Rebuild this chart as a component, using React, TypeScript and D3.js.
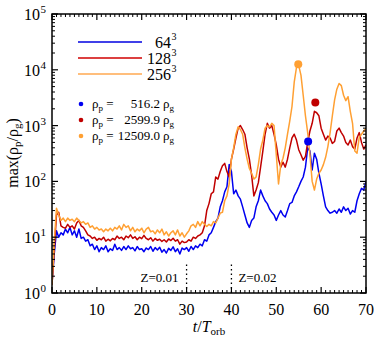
import React from "react";
import * as d3 from "d3";

const tStep = 0.5;
const blue = [1.5,5,13,10,12,11,14,12,15,11,13,10,14,9.5,10,8.5,9,7,7.5,6,7,5.5,6.5,6,7,5.5,6.2,5.8,7.5,6,6.5,5.8,6.8,6,7,6.2,6.5,5.7,6.8,6,6.2,5.5,6.4,6,6.8,5.6,6.5,5.9,6.6,5.4,6,5.2,6.3,5.8,6.7,5.5,6.2,5,6.4,6,6.5,5.6,6.8,6,7,6.5,7.5,7,9,8.5,11,12,15,19,22,35,45,65,80,200,150,60,70,55,48,35,25,18,15,20,22,35,45,70,55,45,40,32,28,25,20,25,30,25,23,30,40,42,55,65,80,100,120,180,400,350,160,320,250,140,90,55,35,30,27,28,30,27,32,28,35,30,33,26,30,28,45,60,75,70,100];
const red = [1.4,6,25,28,16,15,14.5,17,15,16,14,18,20,16,15,13,11,10.5,9.5,10,8.8,9.5,9,10,8.5,9.2,8.6,9.5,9,10.5,9.5,10,9,10.5,9.8,11,9.5,10.2,9,10,9.4,10.8,9.5,9,9.8,8.5,9.5,8.8,9.2,8.4,9,8.2,9.3,8.7,9.6,8.5,9,7.5,8.5,8,8.2,9,8.5,10,9.5,10.5,11,12,16,30,40,60,65,120,110,150,190,210,150,120,250,380,600,900,1000,850,700,400,250,130,55,70,95,180,350,700,1100,900,1000,700,450,250,180,220,180,250,400,600,700,550,370,300,240,280,500,800,1100,1800,1700,1500,900,700,550,650,600,480,520,800,900,750,650,500,450,550,420,380,600,750,500,380,450];
const orange = [1.4,8,33,25,20,22,19,22,20,21,19,22,20,18,19,17,18,15,16,14,15,13.5,14,12.5,14,13,14.5,13,15,14,16,13.5,17,15,16,13,15,12.5,14,13,14.5,12,14,15,12.5,13,11.5,13.5,12,14,11,12.5,10.5,12,13,11,13.5,10.5,12,10,11.5,13,16,17,15,19,16,19,17,15.5,17,16,19,18,22,27,28,45,55,90,250,400,700,950,850,700,400,250,170,140,110,120,200,380,550,900,1000,950,1100,1000,300,90,200,260,400,700,1200,2200,6000,11000,12000,8000,3500,1500,750,300,100,70,110,140,160,200,270,420,750,1500,2900,4500,5700,5200,3500,2800,3300,1800,1100,350,320,620,700,800,900];

const seriesNames = ["64", "128", "256"];
const seriesColors = ["#0000f0", "#c00000", "#ffa033"];
const legendLineColors = ["#0000e0", "#d00000", "#ffa850"];
const peakT = [57.1, 58.7, 54.9];
const peakRho = [516.2, 2599.9, 12509.0];
const peakLabels = ["516.2", "2599.9", "12509.0"];
const xTicks = [0, 10, 20, 30, 40, 50, 60, 70];
const yExps = [0, 1, 2, 3, 4, 5];
const zLines = [30, 40];
const zLabels = ["Z=0.01", "Z=0.02"];

const W = 374, H = 343;
const L = 52, R = 366, T = 14, B = 293;
const FONT = "'Liberation Serif', 'DejaVu Serif', serif";

export default function App() {
  const x = d3.scaleLinear().domain([0, 70]).range([L, R]);
  const y = d3.scaleLog().domain([1, 1e5]).range([B, T]);
  const all = [blue, red, orange];
  const line = d3
    .line<number>()
    .x((_, i) => x(i * tStep))
    .y((d) => y(d));

  const minorX = d3.range(0, 71, 1).filter((v) => v % 10 !== 0);
  const minorY: number[] = [];
  for (let e = 0; e < 5; e++) for (let m = 2; m <= 9; m++) minorY.push(m * Math.pow(10, e));

  return (
    <svg width={W} height={H} style={{ position: "absolute", left: 0, top: 0, background: "#fff" }} fontFamily={FONT}>
      <defs>
        <clipPath id="plot">
          <rect x={L} y={T} width={R - L} height={B - T} />
        </clipPath>
      </defs>
      <g clipPath="url(#plot)">
        {all.map((s, i) => (
          <path key={i} d={line(s) || ""} fill="none" stroke={seriesColors[i]} strokeWidth={1.5} strokeLinejoin="round" />
        ))}
      </g>
      {peakT.map((t, i) => (
        <circle key={i} cx={x(t)} cy={y(peakRho[i])} r={4} fill={seriesColors[i]} />
      ))}
      {/* dotted Z lines */}
      {zLines.map((t, i) => (
        <line key={i} x1={x(t)} x2={x(t)} y1={B} y2={262} stroke="#000" strokeWidth={1.3} strokeDasharray="1.5,3" />
      ))}
      <text x={x(30) - 8} y={282} fontSize={13} textAnchor="end">{zLabels[0]}</text>
      <text x={x(40) + 7} y={282} fontSize={13}>{zLabels[1]}</text>
      {/* frame */}
      <rect x={L} y={T} width={R - L} height={B - T} fill="none" stroke="#000" strokeWidth={1.5} />
      {/* x ticks */}
      {xTicks.map((v) => (
        <g key={v}>
          <line x1={x(v)} x2={x(v)} y1={B} y2={B - 6} stroke="#000" strokeWidth={1.2} />
          <line x1={x(v)} x2={x(v)} y1={T} y2={T + 6} stroke="#000" strokeWidth={1.2} />
          <text x={x(v)} y={315} fontSize={16} textAnchor="middle">{v}</text>
        </g>
      ))}
      {minorX.map((v) => (
        <g key={v}>
          <line x1={x(v)} x2={x(v)} y1={B} y2={B - 3} stroke="#000" strokeWidth={1} />
          <line x1={x(v)} x2={x(v)} y1={T} y2={T + 3} stroke="#000" strokeWidth={1} />
        </g>
      ))}
      {/* y ticks */}
      {yExps.map((e) => {
        const v = Math.pow(10, e);
        return (
          <g key={e}>
            <line x1={L} x2={L + 6} y1={y(v)} y2={y(v)} stroke="#000" strokeWidth={1.2} />
            <line x1={R} x2={R - 6} y1={y(v)} y2={y(v)} stroke="#000" strokeWidth={1.2} />
            <text x={40} y={y(v) + 6} fontSize={16} textAnchor="end">10</text>
            <text x={40.5} y={y(v) - 1} fontSize={11}>{e}</text>
          </g>
        );
      })}
      {minorY.map((v) => (
        <g key={v}>
          <line x1={L} x2={L + 3} y1={y(v)} y2={y(v)} stroke="#000" strokeWidth={1} />
          <line x1={R} x2={R - 3} y1={y(v)} y2={y(v)} stroke="#000" strokeWidth={1} />
        </g>
      ))}
      {/* axis titles */}
      <text x={209} y={332} fontSize={16} textAnchor="middle">
        <tspan fontStyle="italic">t</tspan>/<tspan fontStyle="italic">T</tspan>
        <tspan fontSize={11} dy={3}>orb</tspan>
      </text>
      <text transform="translate(18,153) rotate(-90)" fontSize={16} textAnchor="middle">
        max(ρ<tspan fontSize={11} dy={3}>p</tspan><tspan dy={-3}>/ρ</tspan><tspan fontSize={11} dy={3}>g</tspan><tspan dy={-3}>)</tspan>
      </text>
      {/* legend lines */}
      {seriesNames.map((n, i) => (
        <g key={n}>
          <line x1={78} x2={142} y1={42 + i * 16} y2={42 + i * 16} stroke={legendLineColors[i]} strokeWidth={1.5} />
          <text x={171} y={48 + i * 16} fontSize={16} textAnchor="end">{n}</text>
          <text x={171.5} y={40 + i * 16} fontSize={10}>3</text>
        </g>
      ))}
      {/* legend dots */}
      {peakLabels.map((lab, i) => (
        <g key={lab}>
          <circle cx={81} cy={104 + i * 16} r={2.3} fill={seriesColors[i]} />
          <text x={92} y={108 + i * 16} fontSize={13}>
            ρ<tspan fontSize={9} dy={3}>p</tspan><tspan dy={-3}> =</tspan>
          </text>
          <text x={160} y={108 + i * 16} fontSize={13} textAnchor="end">{lab}</text>
          <text x={163} y={108 + i * 16} fontSize={13}>
            ρ<tspan fontSize={9} dy={3}>g</tspan>
          </text>
        </g>
      ))}
    </svg>
  );
}
